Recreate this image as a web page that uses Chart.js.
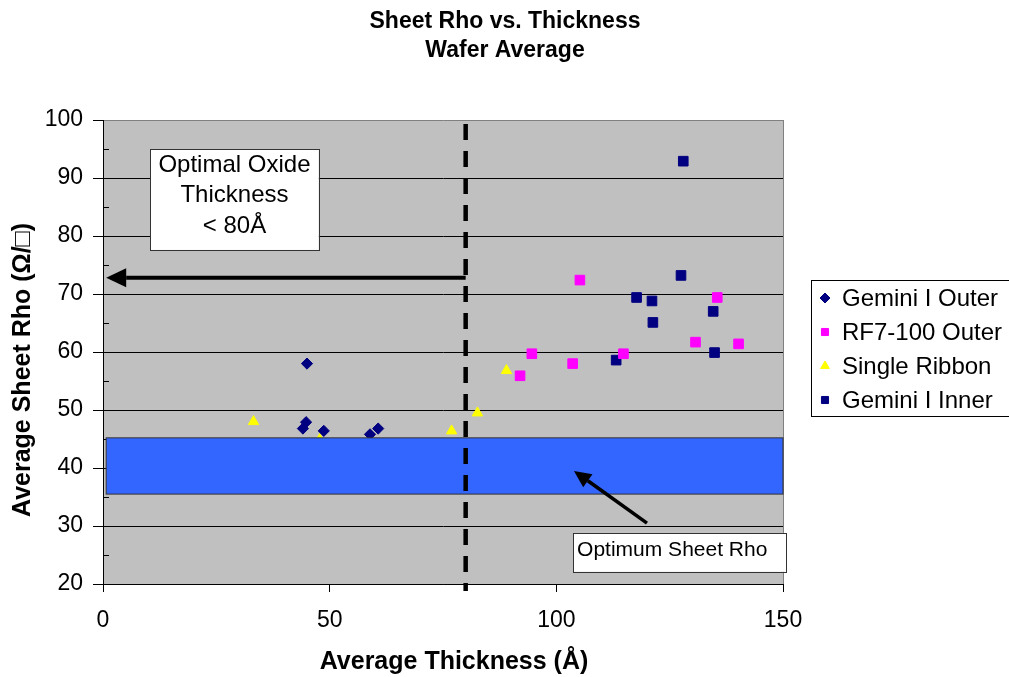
<!DOCTYPE html>
<html>
<head>
<meta charset="utf-8">
<title>Sheet Rho vs. Thickness</title>
<script src="https://cdn.jsdelivr.net/npm/chart.js@4.4.1/dist/chart.umd.min.js"></script>
<style>
  html, body { margin: 0; padding: 0; background: #fff; }
  #wrap { width: 1009px; height: 677px; position: relative; }
</style>
</head>
<body>
<div id="wrap"><canvas id="sheetRho"></canvas></div>
<script>
// ---------- data (thickness in Å, sheet rho in ohm/sq) ----------
const titleLines = ["Sheet Rho vs. Thickness", "Wafer Average"];
const xTitle = "Average Thickness (Å)";
const yTitle = "Average Sheet Rho (Ω/□)";
const seriesNames = ["Gemini I Outer", "RF7-100 Outer", "Single Ribbon", "Gemini I Inner"];

const geminiOuterThk = [45.0, 44.8, 44.1, 48.7, 58.9, 60.7];
const geminiOuterRho = [58.0, 47.9, 46.8, 46.4, 45.8, 46.8];

const rf7OuterThk = [105.2, 135.5, 130.7, 140.2, 94.6, 114.8, 103.6, 92.0];
const rf7OuterRho = [72.4, 69.4, 61.7, 61.4, 59.7, 59.7, 58.0, 55.9];

const ribbonThk = [33.2, 47.8, 76.9, 82.6, 89.0];
const ribbonRho = [48.0, 44.9, 46.4, 49.5, 56.8];

const geminiInnerThk = [128.0, 127.5, 117.7, 121.1, 121.3, 134.6, 134.9, 113.2];
const geminiInnerRho = [92.9, 73.2, 69.4, 68.8, 65.1, 67.0, 59.9, 58.6];

const xTicks = [0, 50, 100, 150];
const yTicks = [20, 30, 40, 50, 60, 70, 80, 90, 100];

// process windows
const optimalOxideMax = 80;
const optimumRhoLow = 35.5;
const optimumRhoHigh = 45.2;

const FONT = 'Arial, "Liberation Sans", Helvetica, sans-serif';
const NAVY = "#000080";

const toPoints = (xs, ys) => xs.map((x, i) => ({ x, y: ys[i] }));

function arrow(ctx, x1, y1, x2, y2, width, headLen, headHalf) {
  const ang = Math.atan2(y2 - y1, x2 - x1);
  const bx = x2 - headLen * Math.cos(ang), by = y2 - headLen * Math.sin(ang);
  ctx.save();
  ctx.strokeStyle = "#000";
  ctx.fillStyle = "#000";
  ctx.lineWidth = width;
  ctx.beginPath();
  ctx.moveTo(x1, y1);
  ctx.lineTo(bx, by);
  ctx.stroke();
  ctx.beginPath();
  ctx.moveTo(x2, y2);
  ctx.lineTo(bx + headHalf * Math.sin(ang), by - headHalf * Math.cos(ang));
  ctx.lineTo(bx - headHalf * Math.sin(ang), by + headHalf * Math.cos(ang));
  ctx.closePath();
  ctx.fill();
  ctx.restore();
}

function textBox(ctx, x1, y1, x2, y2) {
  ctx.fillStyle = "#fff";
  ctx.fillRect(x1, y1, x2 - x1, y2 - y1);
  ctx.strokeStyle = "#333";
  ctx.lineWidth = 1;
  ctx.strokeRect(Math.round(x1) + 0.5, Math.round(y1) + 0.5, Math.round(x2 - x1), Math.round(y2 - y1));
}

// gray plot area
const plotBackground = {
  id: "plotBackground",
  beforeDraw(chart) {
    const { ctx, chartArea: a } = chart;
    ctx.save();
    ctx.fillStyle = "#C0C0C0";
    ctx.fillRect(a.left, a.top, a.right - a.left, a.bottom - a.top);
    ctx.restore();
  },
  beforeDatasetsDraw(chart) {
    // minor ticks point into the plot
    const { ctx, chartArea: a, scales: { y } } = chart;
    ctx.save();
    ctx.strokeStyle = "#000";
    ctx.lineWidth = 1;
    for (let v = 25; v < 100; v += 10) {
      const py = Math.round(y.getPixelForValue(v)) + 0.5;
      ctx.beginPath();
      ctx.moveTo(a.left, py);
      ctx.lineTo(a.left + 6, py);
      ctx.stroke();
    }
    ctx.restore();
  }
};

// band, threshold line, arrows and notes
const annotations = {
  id: "annotations",
  afterDatasetsDraw(chart) {
    const { ctx, chartArea: a, scales: { x, y } } = chart;
    ctx.save();

    // optimum sheet rho band
    const bx1 = x.getPixelForValue(0.7), bx2 = a.right;
    const by1 = y.getPixelForValue(optimumRhoHigh), by2 = y.getPixelForValue(optimumRhoLow);
    ctx.fillStyle = "#3366FF";
    ctx.fillRect(bx1, by1, bx2 - bx1, by2 - by1);
    ctx.strokeStyle = "#333";
    ctx.lineWidth = 1;
    ctx.strokeRect(bx1, by1, bx2 - bx1, by2 - by1);

    // oxide thickness limit
    const lx = x.getPixelForValue(optimalOxideMax);
    ctx.strokeStyle = "#000";
    ctx.lineWidth = 4.5;
    ctx.setLineDash([16, 11]);
    ctx.lineDashOffset = -4;
    ctx.beginPath();
    ctx.moveTo(lx, a.top);
    ctx.lineTo(lx, a.bottom + 7);
    ctx.stroke();
    ctx.setLineDash([]);

    // arrow to the left of the limit
    const ay = y.getPixelForValue(72.8);
    arrow(ctx, lx, ay, x.getPixelForValue(0.7), ay, 4, 20, 9.5);

    // note box: optimal oxide
    textBox(ctx, x.getPixelForValue(10.4), y.getPixelForValue(95.0),
            x.getPixelForValue(47.6), y.getPixelForValue(77.6));
    ctx.fillStyle = "#000";
    ctx.font = "24px " + FONT;
    ctx.textAlign = "center";
    ctx.textBaseline = "middle";
    const cx = (x.getPixelForValue(10.4) + x.getPixelForValue(47.6)) / 2;
    ["Optimal Oxide", "Thickness", "< " + optimalOxideMax + "Å"].forEach((t, i) => {
      ctx.fillText(t, cx, y.getPixelForValue(95.0) + 16 + i * 30.5);
    });

    // arrow into the band
    arrow(ctx, x.getPixelForValue(120.0), y.getPixelForValue(30.5),
          x.getPixelForValue(103.9), y.getPixelForValue(39.5), 3.5, 17, 8);

    // note box: optimum sheet rho
    const nx1 = x.getPixelForValue(103.7), nx2 = x.getPixelForValue(150.6);
    const ny1 = y.getPixelForValue(28.8), ny2 = y.getPixelForValue(22.1);
    textBox(ctx, nx1, ny1, nx2, ny2);
    ctx.fillStyle = "#000";
    ctx.font = "21px " + FONT;
    ctx.textAlign = "left";
    ctx.fillText("Optimum Sheet Rho", nx1 + 4, (ny1 + ny2) / 2 - 2);

    ctx.restore();
  }
};

// titles and legend
const chrome = {
  id: "chrome",
  afterDraw(chart) {
    const { ctx } = chart;
    ctx.save();
    ctx.fillStyle = "#000";
    ctx.textAlign = "center";
    ctx.textBaseline = "middle";

    ctx.font = "bold 23px " + FONT;
    ctx.fillText(titleLines[0], 505, 22);
    ctx.fillText(titleLines[1], 505, 51);

    ctx.font = "bold 25px " + FONT;
    ctx.fillText(xTitle, 454, 662);
    ctx.save();
    ctx.translate(23, 370);
    ctx.rotate(-Math.PI / 2);
    ctx.fillText(yTitle, 0, 0);
    ctx.restore();

    // legend
    ctx.strokeStyle = "#000";
    ctx.lineWidth = 1;
    ctx.strokeRect(811.5, 280.5, 210, 136);
    ctx.textAlign = "left";
    ctx.font = "24px " + FONT;
    const legendRadius = { rectRot: 5, rect: 5, triangle: 5 };
    chart.data.datasets.forEach((ds, i) => {
      const ly = 298 + i * 34;
      ctx.fillStyle = ds.backgroundColor;
      ctx.strokeStyle = ds.borderColor;
      Chart.helpers.drawPoint(ctx, {
        pointStyle: ds.pointStyle, rotation: 0,
        radius: legendRadius[ds.pointStyle], borderWidth: 1
      }, 825, ly);
      ctx.fillStyle = "#000";
      ctx.fillText(ds.label, 842, ly + 1);
    });
    ctx.restore();
  }
};

const datasets = [
  { label: seriesNames[0], data: toPoints(geminiOuterThk, geminiOuterRho),
    pointStyle: "rectRot", pointRadius: 5.6, backgroundColor: NAVY, borderColor: NAVY },
  { label: seriesNames[1], data: toPoints(rf7OuterThk, rf7OuterRho),
    pointStyle: "rect", pointRadius: 6.8, backgroundColor: "#FF00FF", borderColor: "#FF00FF" },
  { label: seriesNames[2], data: toPoints(ribbonThk, ribbonRho),
    pointStyle: "triangle", pointRadius: 6, backgroundColor: "#FFFF00", borderColor: "#FFFF00" },
  { label: seriesNames[3], data: toPoints(geminiInnerThk, geminiInnerRho),
    pointStyle: "rect", pointRadius: 6.8, backgroundColor: NAVY, borderColor: NAVY }
];
datasets.forEach(d => { d.borderWidth = 1; d.pointHoverRadius = d.pointRadius; });

new Chart(document.getElementById("sheetRho"), {
  type: "scatter",
  data: { datasets },
  options: {
    responsive: true,
    maintainAspectRatio: false,
    animation: false,
    layout: { padding: { top: 120, right: 226, bottom: 0, left: 0 } },
    plugins: { legend: { display: false }, title: { display: false }, tooltip: { enabled: false } },
    scales: {
      x: {
        type: "linear",
        min: xTicks[0],
        max: xTicks[xTicks.length - 1],
        afterFit: s => { s.height = 93; },
        ticks: { stepSize: 50, padding: 15, color: "#000", font: { family: FONT, size: 23 } },
        grid: {
          color: c => (c.tick && c.tick.value === 150 ? "#808080" : "rgba(0,0,0,0)"),
          tickColor: "#000",
          tickLength: 8,
          lineWidth: 1
        },
        border: { color: "#000", width: 1 }
      },
      y: {
        type: "linear",
        min: yTicks[0],
        max: yTicks[yTicks.length - 1],
        afterFit: s => { s.width = 103; },
        ticks: {
          stepSize: 5,
          autoSkip: false,
          padding: 10,
          color: "#000",
          font: { family: FONT, size: 23 },
          callback: v => (yTicks.includes(v) ? v : "")
        },
        grid: {
          color: c => {
            const v = c.tick && c.tick.value;
            if (v === 100) return "#808080";
            return yTicks.includes(v) ? "#000" : "rgba(0,0,0,0)";
          },
          tickColor: c => (c.tick && yTicks.includes(c.tick.value) ? "#000" : "rgba(0,0,0,0)"),
          tickLength: 10,
          lineWidth: 1
        },
        border: { color: "#000", width: 1 }
      }
    }
  },
  plugins: [plotBackground, annotations, chrome]
});
</script>
</body>
</html>
